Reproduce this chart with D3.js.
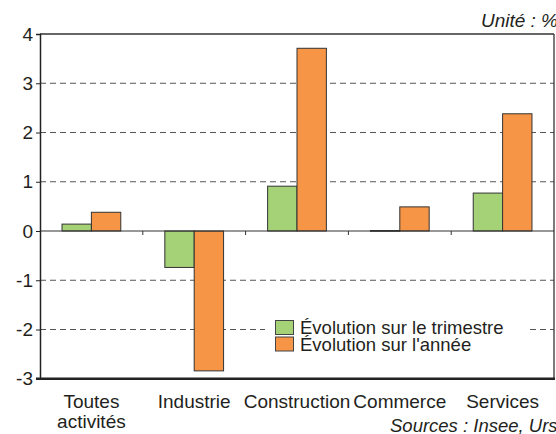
<!DOCTYPE html>
<html><head><meta charset="utf-8">
<script src="https://cdn.jsdelivr.net/npm/d3@7/dist/d3.min.js"></script>
<style>
body{margin:0;background:#fff;}
svg text{font-family:"Liberation Sans Narrow","Arial Narrow",sans-serif;fill:#231f20;}
</style></head><body>
<svg id="c" width="556" height="434"></svg>
<script>
const categories = ["Toutes activités","Industrie","Construction","Commerce","Services"];
const seriesNames = ["Évolution sur le trimestre","Évolution sur l'année"];
const trimestre = [0.14,-0.74,0.91,0.01,0.77];
const annee = [0.38,-2.84,3.71,0.49,2.38];
const yTicks = [-3,-2,-1,0,1,2,3,4];
const colors = ["#a5d177","#f69546"];

const svg = d3.select("#c");
const L=40, R=554, T=34, B=378.75;
const x = d3.scaleBand().domain(categories).range([L,R]);
const xs = d3.scaleBand().domain([0,1]).range([0,x.bandwidth()]).paddingOuter(0.75).paddingInner(0);
const y = d3.scaleLinear().domain([-3,4]).range([B,T]);

// gridlines
svg.append("g").selectAll("line").data(yTicks.filter(d=>d!==0&&d!==-3&&d!==4)).join("line")
  .attr("x1",L).attr("x2",R).attr("y1",d=>y(d)).attr("y2",d=>y(d))
  .attr("stroke","#555").attr("stroke-width",1.2).attr("stroke-dasharray","6,4");

// frame top/right
svg.append("line").attr("x1",L).attr("x2",R).attr("y1",y(4)).attr("y2",y(4)).attr("stroke","#333").attr("stroke-width",1.3);
svg.append("line").attr("x1",R).attr("x2",R).attr("y1",y(4)).attr("y2",y(-3)).attr("stroke","#333").attr("stroke-width",1.3);

// bars
const data = categories.map((c,i)=>({c, v:[trimestre[i],annee[i]]}));
const g = svg.append("g");
data.forEach(d=>{
  d.v.forEach((v,k)=>{
    g.append("rect")
      .attr("x",x(d.c)+xs(k)).attr("width",xs.bandwidth())
      .attr("y",y(Math.max(0,v))).attr("height",Math.max(0.8,Math.abs(y(v)-y(0))))
      .attr("fill",colors[k]).attr("stroke","#333").attr("stroke-width",1);
  });
});

// zero line
svg.append("line").attr("x1",L).attr("x2",R).attr("y1",y(0)).attr("y2",y(0)).attr("stroke","#333").attr("stroke-width",1.2);
// category ticks on zero line
svg.append("g").selectAll("line").data(categories.slice(1)).join("line")
  .attr("x1",d=>x(d)).attr("x2",d=>x(d)).attr("y1",y(0)).attr("y2",y(0)+4)
  .attr("stroke","#333").attr("stroke-width",1);

// y axis
const ya = svg.append("g").attr("transform",`translate(${L},0)`)
  .call(d3.axisLeft(y).tickValues(yTicks).tickSize(4).tickPadding(3).tickFormat(d=>String(d)));
ya.select(".domain").attr("stroke","#222").attr("stroke-width",1.5);
ya.selectAll(".tick line").attr("stroke","#222");
ya.selectAll("text").attr("font-size",19).attr("font-family",null).style("fill","#231f20");

// bottom axis line
svg.append("line").attr("x1",L-4).attr("x2",R+1).attr("y1",B).attr("y2",B).attr("stroke","#222").attr("stroke-width",2.5);

// x labels
const xl = svg.append("g");
categories.forEach(c=>{
  const words = c==="Toutes activités" ? ["Toutes","activités"] : [c];
  words.forEach((w,i)=>{
    xl.append("text").attr("x",x(c)+x.bandwidth()/2).attr("y",408+i*20)
      .attr("text-anchor","middle").attr("font-size",19).text(w);
  });
});

// legend
const lg = svg.append("g");
lg.append("rect").attr("x",265).attr("y",313).attr("width",262).attr("height",46).attr("fill","#fff");
seriesNames.forEach((n,k)=>{
  lg.append("rect").attr("x",275.5).attr("y",320.5+k*16.5).attr("width",18).attr("height",14)
    .attr("fill",colors[k]).attr("stroke","#444").attr("stroke-width",1);
  lg.append("text").attr("x",300).attr("y",334+k*16.5).attr("font-size",18.5).text(n);
});

// unit & sources
svg.append("text").attr("x",558).attr("y",27).attr("text-anchor","end").attr("font-size",19)
  .attr("font-style","italic").text("Unité : %");
svg.append("text").attr("x",390).attr("y",432).attr("font-size",18.5)
  .attr("font-style","italic").text("Sources : Insee, Urssaf");
</script>
</body></html>
